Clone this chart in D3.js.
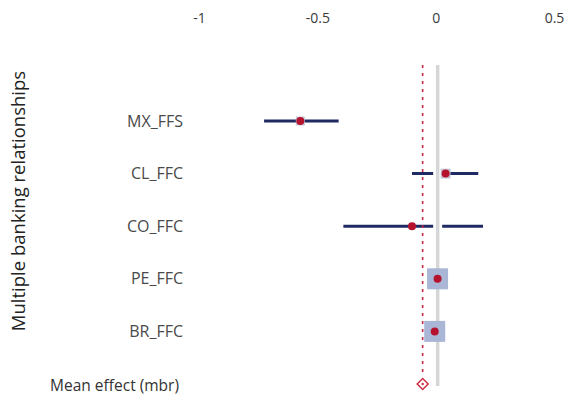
<!DOCTYPE html>
<html>
<head>
<meta charset="utf-8">
<script src="https://cdn.jsdelivr.net/npm/d3@7"></script>
<style>
  body { margin: 0; background: #fff; }
  svg { font-family: "Open Sans", Lato, sans-serif; }
</style>
</head>
<body>
<div id="chart-area"></div>
<script>
const WIDTH = 570
const HEIGHT = 400

// data
const studies = ["MX_FFS", "CL_FFC", "CO_FFC", "PE_FFC", "BR_FFC"]
const effects = [-0.572, 0.042, -0.10, 0.008, -0.004]
const lower = [-0.725, -0.10, -0.39, -0.01, -0.02]
const upper = [-0.41, 0.18, 0.20, 0.02, 0.01]
const weights = [0.18, 0.22, 0.1, 1, 1]
const meanLabel = "Mean effect (mbr)"
const meanEffect = -0.055
const xTicks = [-1, -0.5, 0, 0.5]

const rows = studies.map((s, i) => ({
  study: s, effect: effects[i], lo: lower[i], hi: upper[i], w: weights[i]
}))

const svg = d3.select("#chart-area").append("svg")
  .attr("width", WIDTH)
  .attr("height", HEIGHT)

// Scales
const x = d3.scaleLinear()
  .domain([-1, 0.5])
  .range([199, 554])

const y = d3.scalePoint()
  .domain(studies.concat([meanLabel]))
  .range([121, 384])

const boxSize = d3.scaleSqrt()
  .domain([0, 1])
  .range([0, 21])

// top axis, labels only
const xAxisCall = d3.axisTop(x)
  .tickValues(xTicks)
  .tickSize(0)
  .tickPadding(3)
  .tickFormat(d => d)
const xAxis = svg.append("g")
  .attr("transform", "translate(0, 26)")
  .call(xAxisCall)
xAxis.select(".domain").remove()
xAxis.selectAll("text")
  .attr("font-size", "14px")
  .attr("font-family", "'Open Sans', sans-serif")
  .attr("fill", "#3a3a3a")

// left labels
const yAxisCall = d3.axisLeft(y)
  .tickSize(0)
  .tickPadding(7)
const yAxis = svg.append("g")
  .attr("transform", "translate(190, 0)")
  .call(yAxisCall)
yAxis.select(".domain").remove()
yAxis.selectAll("text")
  .attr("font-family", "'Open Sans', sans-serif")
  .attr("fill", d => d === meanLabel ? "#333" : "#4a4a4a")
  .attr("font-size", d => d === meanLabel ? "15.5px" : "16px")
  .attr("x", d => d === meanLabel ? -11 : -7)
  .attr("dy", d => d === meanLabel ? "0.4em" : "0.32em")

svg.append("text")
  .attr("x", -201)
  .attr("y", 25)
  .attr("transform", "rotate(-90)")
  .attr("text-anchor", "middle")
  .attr("font-size", "18.5px")
  .attr("fill", "#222")
  .text("Multiple banking relationships")

// confidence intervals
svg.selectAll("line.ci")
  .data(rows)
  .enter().append("line")
    .attr("class", "ci")
    .attr("x1", d => x(d.lo))
    .attr("x2", d => x(d.hi))
    .attr("y1", d => y(d.study))
    .attr("y2", d => y(d.study))
    .attr("stroke", "#1f2a63")
    .attr("stroke-width", 3)

// zero line with white halo
svg.append("line")
  .attr("x1", x(0) + 2).attr("x2", x(0) + 2)
  .attr("y1", 65).attr("y2", 386)
  .attr("stroke", "#fff")
  .attr("stroke-width", 9)
svg.append("line")
  .attr("x1", x(0) + 2).attr("x2", x(0) + 2)
  .attr("y1", 65).attr("y2", 386)
  .attr("stroke", "#d6d6d6")
  .attr("stroke-width", 3.5)

// weight boxes
svg.selectAll("rect.box")
  .data(rows)
  .enter().append("rect")
    .attr("class", "box")
    .attr("x", d => x(d.effect) - boxSize(d.w) / 2)
    .attr("y", d => y(d.study) - boxSize(d.w) / 2)
    .attr("width", d => boxSize(d.w))
    .attr("height", d => boxSize(d.w))
    .attr("fill", d => d.w > 0.5 ? "#a9b6d5" : "#c3c6d6")

// mean effect dashed line
svg.append("line")
  .attr("x1", x(meanEffect)).attr("x2", x(meanEffect))
  .attr("y1", 65).attr("y2", y(meanLabel) - 7)
  .attr("stroke", "#c0284a")
  .attr("stroke-width", 1.6)
  .attr("stroke-dasharray", "3,5")

// points
svg.selectAll("circle.pt")
  .data(rows)
  .enter().append("circle")
    .attr("class", "pt")
    .attr("cx", d => x(d.effect))
    .attr("cy", d => y(d.study))
    .attr("r", 4)
    .attr("fill", "#b5122e")

// mean effect diamond (rotated square)
const diamond = d3.symbol().type(d3.symbolSquare).size(60)
svg.append("path")
  .attr("d", diamond())
  .attr("transform", `translate(${x(meanEffect)}, ${y(meanLabel)}) rotate(45)`)
  .attr("fill", "#fff")
  .attr("stroke", "#d0304a")
  .attr("stroke-width", 1.5)
svg.append("circle")
  .attr("cx", x(meanEffect))
  .attr("cy", y(meanLabel))
  .attr("r", 1.2)
  .attr("fill", "#d0304a")
</script>
</body>
</html>
